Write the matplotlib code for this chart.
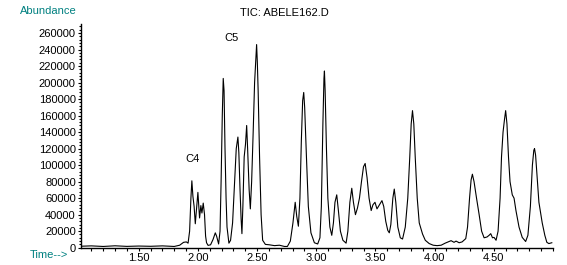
import matplotlib
matplotlib.use('Agg')
from matplotlib import pyplot as plt
from matplotlib.ticker import MultipleLocator

# retention time (min) and total ion abundance
time_min = [
    1.015, 1.10, 1.20, 1.30, 1.40, 1.50, 1.60, 1.70, 1.80, 1.846, 1.879, 1.902, 1.917,
    1.930, 1.941, 1.949, 1.958, 1.968, 1.978, 1.989, 2.000, 2.008, 2.014, 2.025, 2.034,
    2.045, 2.056, 2.065, 2.073, 2.086, 2.107, 2.128, 2.147, 2.158, 2.175, 2.187, 2.196,
    2.206, 2.214, 2.221, 2.229, 2.238, 2.246, 2.262, 2.276, 2.293, 2.310, 2.324, 2.338,
    2.346, 2.356, 2.365, 2.372, 2.380, 2.391, 2.402, 2.412, 2.420, 2.433, 2.443, 2.454,
    2.467, 2.479, 2.496, 2.502, 2.509, 2.521, 2.534, 2.547, 2.570, 2.604, 2.647, 2.689,
    2.731, 2.756, 2.781, 2.803, 2.822, 2.835, 2.849, 2.862, 2.874, 2.885, 2.894, 2.902,
    2.917, 2.933, 2.955, 2.984, 3.012, 3.031, 3.043, 3.056, 3.065, 3.069, 3.075, 3.086,
    3.098, 3.115, 3.131, 3.145, 3.158, 3.173, 3.187, 3.204, 3.225, 3.252, 3.267, 3.284,
    3.300, 3.314, 3.331, 3.348, 3.365, 3.382, 3.399, 3.413, 3.429, 3.446, 3.464, 3.479,
    3.496, 3.513, 3.534, 3.555, 3.570, 3.587, 3.604, 3.617, 3.630, 3.647, 3.659, 3.672,
    3.689, 3.710, 3.729, 3.752, 3.773, 3.790, 3.802, 3.813, 3.824, 3.836, 3.853, 3.870,
    3.898, 3.921, 3.954, 3.988, 4.021, 4.055, 4.089, 4.114, 4.139, 4.164, 4.181, 4.207,
    4.232, 4.263, 4.278, 4.295, 4.308, 4.319, 4.333, 4.354, 4.375, 4.397, 4.418, 4.443,
    4.460, 4.474, 4.489, 4.502, 4.519, 4.536, 4.553, 4.565, 4.578, 4.590, 4.600, 4.611,
    4.624, 4.637, 4.656, 4.671, 4.687, 4.713, 4.740, 4.769, 4.788, 4.809, 4.826, 4.838,
    4.844, 4.853, 4.864, 4.881, 4.909, 4.931, 4.948, 4.965, 4.990,
]
abundance = [
    1800, 2200, 1500, 2300, 1600, 2000, 1700, 2200, 1500, 3000, 6500, 7000, 5500,
    20000, 60000, 81000, 62000, 50000, 29000, 48000, 67000, 50000, 36000, 51000, 42000,
    54000, 40000, 14000, 6000, 2800, 3500, 10000, 18000, 14000, 4500, 20000, 80000,
    160000, 205000, 190000, 120000, 60000, 25000, 5500, 9000, 30000, 80000, 120000, 134000,
    115000, 70000, 35000, 17000, 50000, 110000, 125000, 148000, 120000, 70000, 47000, 80000,
    140000, 200000, 246000, 225000, 190000, 110000, 40000, 9000, 4000, 3500, 2500, 3000,
    1500, 1500, 8000, 30000, 55000, 38000, 26000, 60000, 130000, 178000, 188000, 170000,
    110000, 50000, 18000, 6000, 4500, 12000, 50000, 150000, 205000, 214000, 190000, 120000,
    60000, 25000, 15000, 30000, 55000, 64000, 45000, 20000, 9000, 5500, 20000, 55000,
    72000, 55000, 40000, 48000, 60000, 80000, 98000, 102000, 85000, 60000, 45000, 52000,
    55000, 47000, 52000, 57000, 50000, 32000, 21000, 18000, 28000, 60000, 71000, 55000,
    25000, 12000, 10500, 25000, 60000, 110000, 150000, 166000, 150000, 110000, 60000, 30000,
    16500, 9000, 5000, 3000, 2500, 3000, 5500, 7000, 8500, 6500, 8000, 6000,
    7000, 11000, 25000, 60000, 82000, 89000, 80000, 60000, 41000, 20000, 12000, 13000,
    15000, 17000, 12000, 12500, 9000, 20000, 60000, 110000, 140000, 155000, 166000, 150000,
    110000, 80000, 64000, 60000, 45000, 25000, 12500, 7500, 15000, 50000, 100000, 118000,
    120000, 112000, 90000, 55000, 30000, 15000, 6500, 5000, 6000,
]

y_ticks = list(range(0, 260001, 20000))
x_ticks = [1.5, 2.0, 2.5, 3.0, 3.5, 4.0, 4.5]

peak_labels = ['C4', 'C5']
peak_label_pos = [(1.955, 108000), (2.28, 254000)]

teal = '#008080'
plt.rcParams['font.family'] = ['Liberation Sans', 'DejaVu Sans']
plt.rcParams['font.size'] = 8

fig = plt.figure(figsize=(5.67, 2.65), dpi=100)
ax = fig.add_axes([0.1434, 0.0653, 0.9753 - 0.1434, 0.9094 - 0.0653])

ax.plot(time_min, abundance, color='black', lw=0.8)

ax.set_xlim(1.015, 5.0)
ax.set_ylim(0, 270900)

ax.set_xticks(x_ticks)
ax.set_xticklabels([f'{t:.2f}' for t in x_ticks])
ax.xaxis.set_minor_locator(MultipleLocator(0.1))
ax.set_yticks(y_ticks)
ax.set_yticklabels([str(v) for v in y_ticks])
ax.yaxis.set_minor_locator(MultipleLocator(4000))

ax.tick_params(which='both', direction='out', length=2.5, width=0.8, pad=1.5, labelsize=8)
ax.tick_params(axis='y', which='minor', length=1.5)
ax.tick_params(axis='x', which='minor', length=2.5)

for side in ['top', 'right']:
    ax.spines[side].set_visible(False)
for side in ['left', 'bottom']:
    ax.spines[side].set_linewidth(1.0)

for label, (t, a) in zip(peak_labels, peak_label_pos):
    ax.text(t, a, label, ha='center', va='center', fontsize=8)

fig.text(20 / 567, 1 - 11 / 265, 'Abundance', color=teal, ha='left', va='center', fontsize=8)
fig.text(68 / 567, 1 - 255 / 265, 'Time-->', color=teal, ha='right', va='center', fontsize=8)
fig.text(284 / 567, 1 - 13 / 265, 'TIC: ABELE162.D', ha='center', va='center', fontsize=8)

fig.savefig('out.png', dpi=100)
plt.close(fig)
